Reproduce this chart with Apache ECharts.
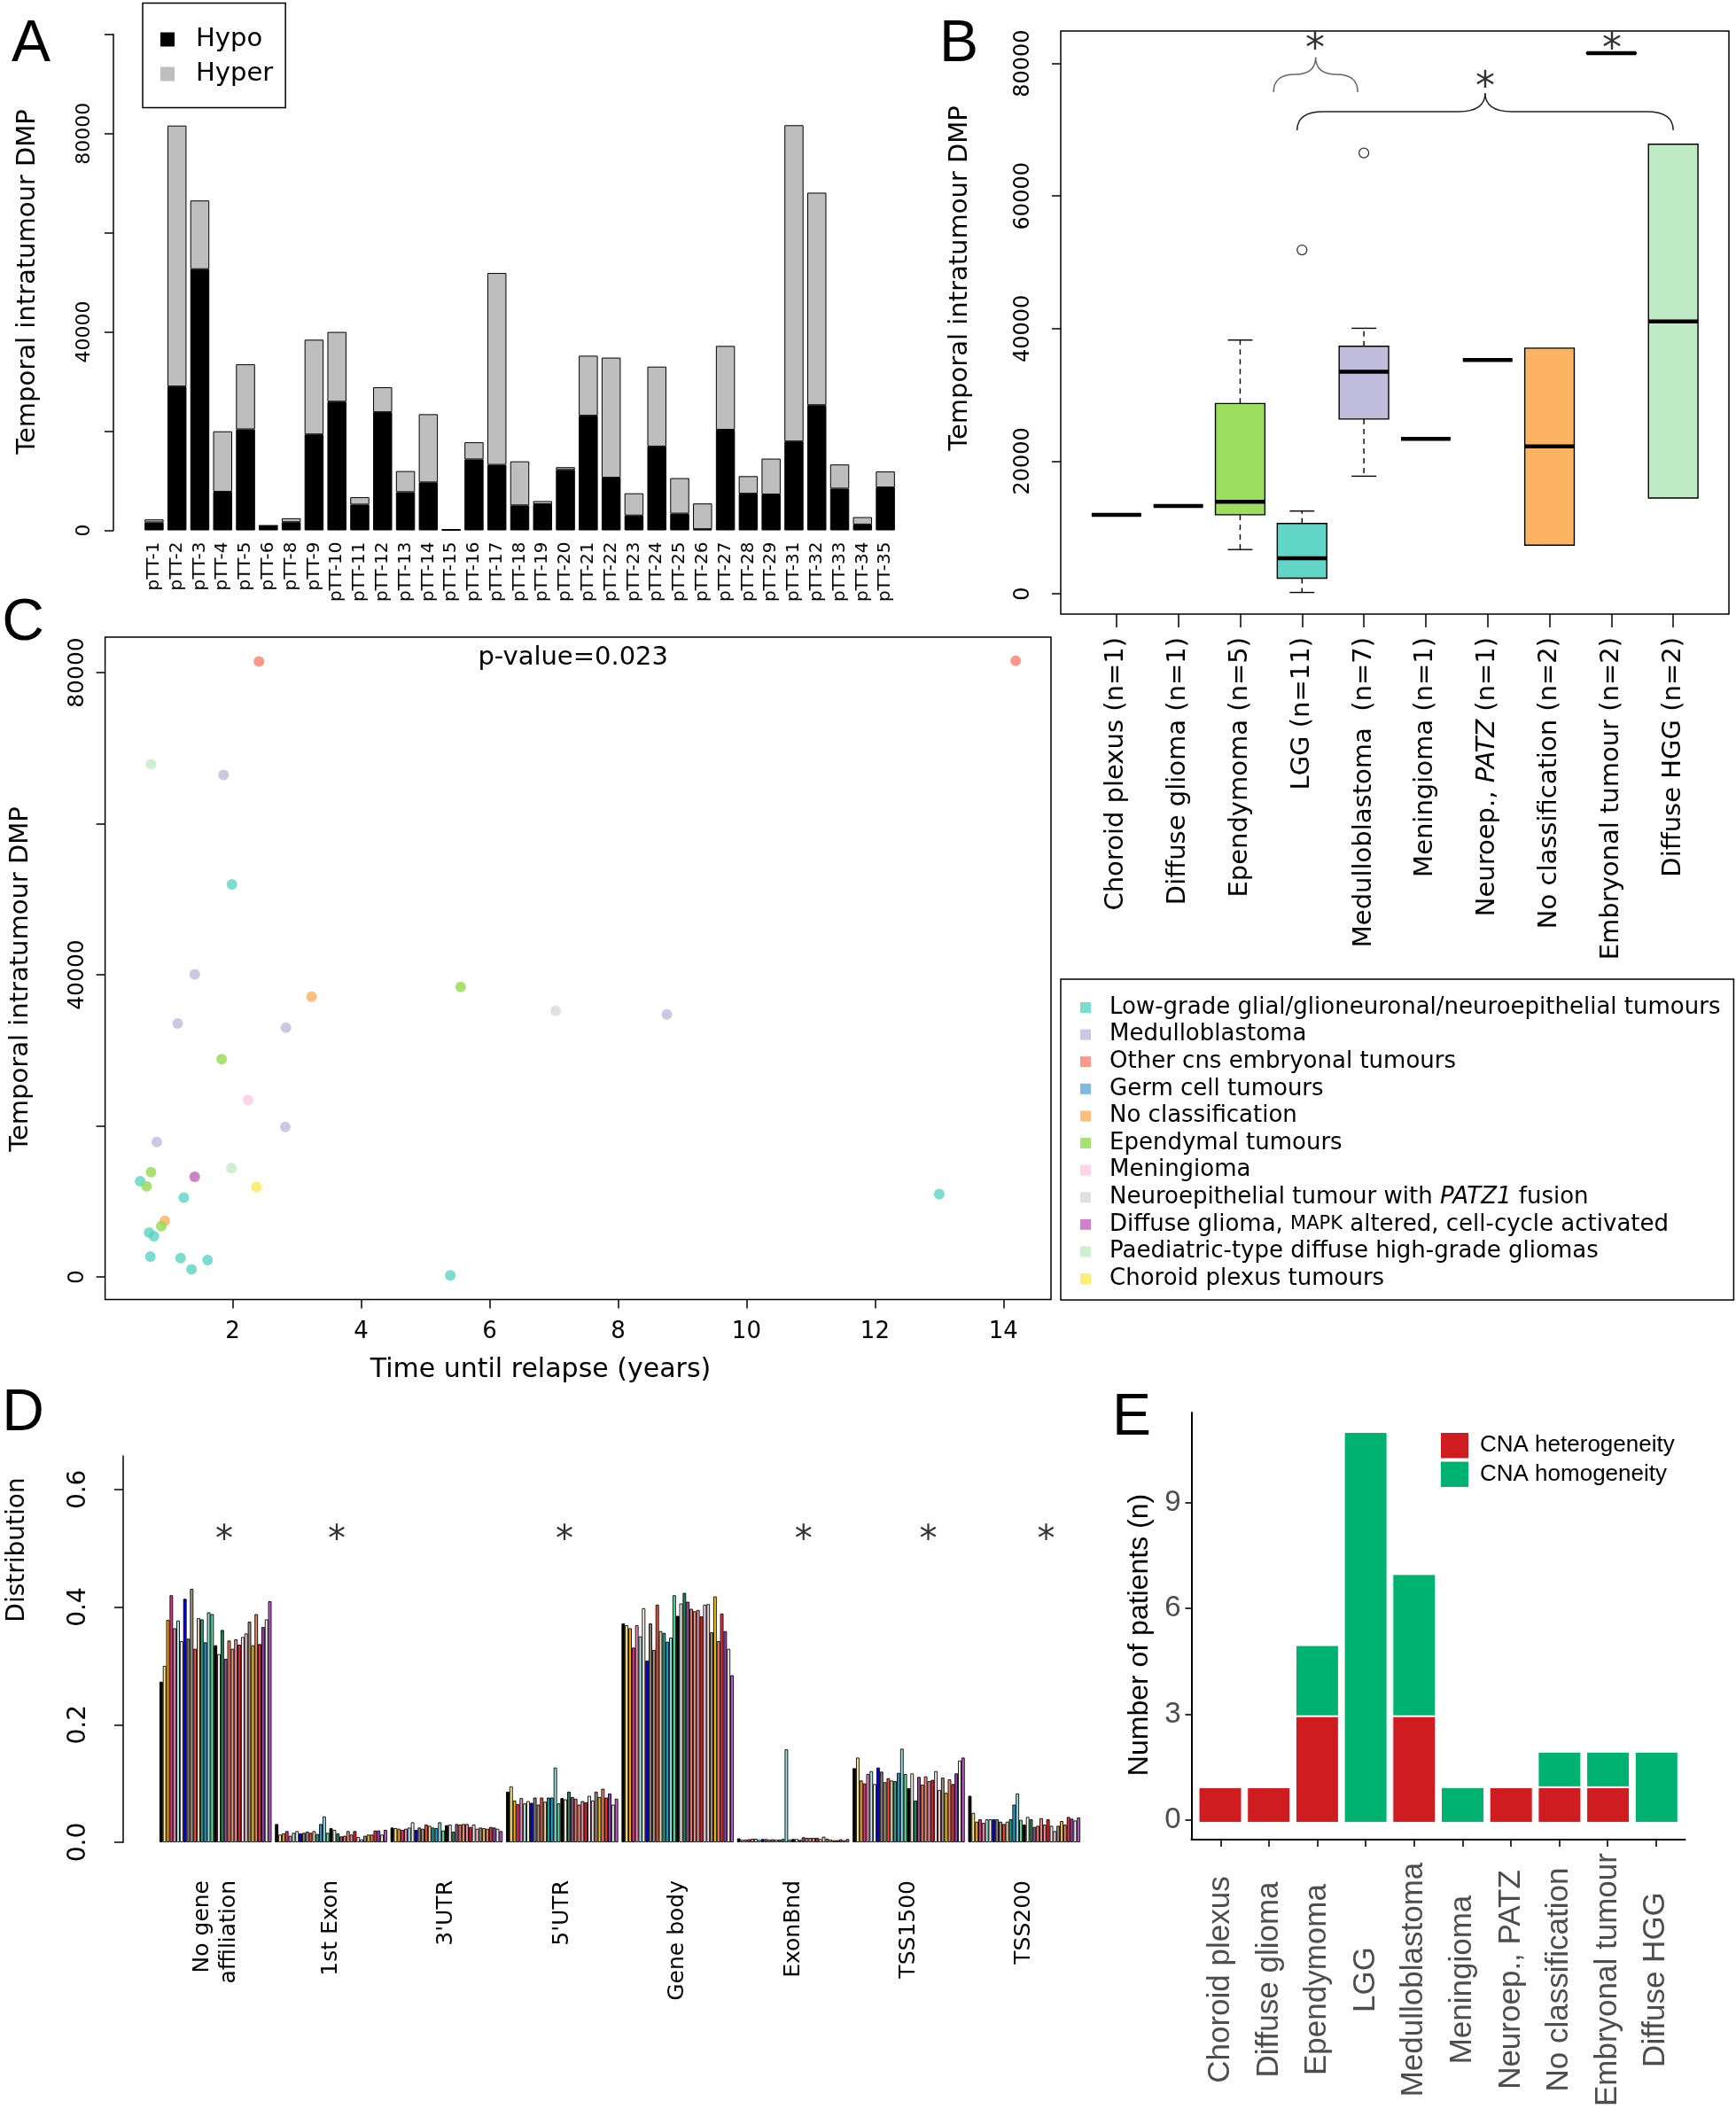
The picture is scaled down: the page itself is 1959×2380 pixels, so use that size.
<!DOCTYPE html>
<html>
<head>
<meta charset="utf-8">
<script src="https://cdn.jsdelivr.net/npm/echarts@6.0.0/dist/echarts.min.js"></script>
<style>
html,body{margin:0;padding:0;background:#ffffff;}
#chart{width:1959px;height:2380px;}
</style>
</head>
<body>
<div id="chart"></div>
<script>
// ---------------- Panel A data ----------------
const patientIds = ['pTT-1','pTT-2','pTT-3','pTT-4','pTT-5','pTT-6','pTT-8','pTT-9','pTT-10','pTT-11','pTT-12','pTT-13','pTT-14','pTT-15','pTT-16','pTT-17','pTT-18','pTT-19','pTT-20','pTT-21','pTT-22','pTT-23','pTT-24','pTT-25','pTT-26','pTT-27','pTT-28','pTT-29','pTT-31','pTT-32','pTT-33','pTT-34','pTT-35'];
const hypoDMP = [1600,29000,52650,7780,20360,940,1650,19340,25940,5190,23820,7700,9670,100,14300,13200,5030,5270,12180,23110,10610,2990,16900,3380,240,20280,7390,7230,17920,25230,8410,1180,8650];
const hyperDMP = [600,52600,13850,12180,13120,0,790,19100,14060,1490,5030,4250,13750,60,3460,38680,8880,630,550,12100,24210,4480,16110,7150,5180,16900,3540,7230,63750,42840,4870,1490,3220];
const dmpTicksA = [0,20000,40000,60000,80000,100000];
const dmpLabelsA = [0,40000,80000];

// ---------------- Panel B data ----------------
const boxCategories = ['Choroid plexus (n=1)','Diffuse glioma (n=1)','Ependymoma (n=5)','LGG (n=11)','Medulloblastoma  (n=7)','Meningioma (n=1)','Neuroep., PATZ (n=1)','No classification (n=2)','Embryonal tumour (n=2)','Diffuse HGG (n=2)'];
// [min, Q1, median, Q3, max]
const boxMin    = [11910,13220,6660,190,17730,23350,35270,7320,81480,14440];
const boxQ1     = [11910,13220,11910,2340,26350,23350,35270,7320,81480,14440];
const boxMedian = [11910,13220,13880,5350,33480,23350,35270,22230,81550,41080];
const boxQ3     = [11910,13220,28700,10600,37330,23350,35270,37050,81600,67810];
const boxMax    = [11910,13220,38270,12470,40050,23350,35270,37050,81600,67810];
const boxOutliers = [[4,51870],[5,66500]];
const boxTicks = [0,20000,40000,60000,80000];
// significance braces: [fromX, toX, endY, flatY, tipY]
const braceData = [[3.54,4.9,75670,78340,80950],[3.92,10.0,69920,72730,75530]];
const starsB = [[4.21,81820],[6.96,76070],[9.01,81820]];

// ---------------- Panel C data ----------------
const classNames = ['Low-grade glial/glioneuronal/neuroepithelial tumours','Medulloblastoma','Other cns embryonal tumours','Germ cell tumours','No classification','Ependymal tumours','Meningioma','Neuroepithelial tumour with PATZ1 fusion','Diffuse glioma, MAPK altered, cell-cycle activated','Paediatric-type diffuse high-grade gliomas','Choroid plexus tumours'];
const relapseLGG = [[1.99,51960],[0.56,12660],[1.24,10500],[13.0,10980],[0.70,5860],[0.775,5390],[0.72,2690],[1.19,2490],[1.36,1010],[1.61,2220],[5.39,200]];
const relapseMB = [[1.86,66470],[1.41,40070],[1.145,33540],[2.83,33000],[8.76,34750],[2.82,19870],[0.82,17850]];
const relapseEmbryonal = [[2.41,81480],[14.19,81550]];
const relapseGerm = [];
const relapseNoClass = [[3.23,37100],[0.945,7410]];
const relapseEpendymal = [[5.55,38380],[1.83,28820],[0.73,13870],[0.66,11990],[0.89,6730]];
const relapseMeningioma = [[2.24,23430]];
const relapsePATZ1 = [[7.03,35220]];
const relapseMAPK = [[1.41,13270]];
const relapseHGG = [[0.73,67880],[1.98,14410]];
const relapseChoroid = [[2.37,11920]];
const relapseXTicks = [2,4,6,8,10,12,14];
const relapseYTicks = [0,20000,40000,60000,80000];
const relapseYLabels = [0,40000,80000];

// ---------------- Panel D data ----------------
const regionNames = ['No gene\naffiliation','1st Exon',"3'UTR","5'UTR",'Gene body','ExonBnd','TSS1500','TSS200'];
const distNoGene = [0.273,0.300,0.378,0.420,0.364,0.377,0.342,0.414,0.346,0.431,0.329,0.381,0.379,0.340,0.391,0.388,0.335,0.320,0.361,0.312,0.343,0.329,0.345,0.336,0.349,0.355,0.375,0.335,0.388,0.337,0.366,0.379,0.410];
const distFirstExon = [0.031,0.013,0.015,0.019,0.011,0.016,0.019,0.015,0.016,0.018,0.016,0.019,0.014,0.031,0.044,0.016,0.024,0.021,0.015,0.010,0.011,0.019,0.013,0.019,0.009,0.005,0.011,0.013,0.013,0.020,0.020,0.013,0.021];
const dist3UTR = [0.025,0.024,0.023,0.021,0.023,0.025,0.034,0.021,0.025,0.023,0.030,0.028,0.025,0.024,0.034,0.020,0.029,0.030,0.018,0.031,0.030,0.031,0.031,0.026,0.030,0.023,0.025,0.024,0.023,0.026,0.025,0.023,0.019];
const dist5UTR = [0.086,0.095,0.071,0.065,0.075,0.066,0.070,0.067,0.076,0.064,0.076,0.069,0.076,0.076,0.127,0.066,0.075,0.073,0.086,0.077,0.074,0.064,0.070,0.068,0.079,0.071,0.086,0.077,0.091,0.076,0.083,0.064,0.074];
const distGeneBody = [0.372,0.369,0.364,0.331,0.369,0.350,0.398,0.309,0.372,0.327,0.404,0.359,0.356,0.341,0.348,0.420,0.385,0.406,0.424,0.409,0.397,0.393,0.395,0.384,0.404,0.405,0.357,0.418,0.342,0.389,0.359,0.329,0.284];
const distExonBnd = [0.0066,0.0041,0.0046,0.0051,0.006,0.006,0.004,0.0055,0.0055,0.0046,0.005,0.0046,0.0046,0.0055,0.158,0.0046,0.0055,0.0055,0.004,0.0085,0.0075,0.0075,0.0075,0.0075,0.0055,0.0095,0.006,0.0046,0.0035,0.0035,0.005,0.0035,0.0055];
const distTSS1500 = [0.126,0.144,0.105,0.100,0.116,0.121,0.099,0.127,0.120,0.102,0.109,0.105,0.104,0.118,0.159,0.116,0.092,0.117,0.071,0.111,0.098,0.112,0.104,0.106,0.121,0.089,0.110,0.084,0.107,0.099,0.117,0.139,0.144];
const distTSS200 = [0.079,0.050,0.035,0.039,0.033,0.039,0.039,0.039,0.039,0.035,0.031,0.035,0.039,0.064,0.083,0.038,0.030,0.043,0.039,0.026,0.028,0.041,0.030,0.039,0.028,0.019,0.028,0.036,0.030,0.043,0.040,0.037,0.042];
const distTicks = [0,0.2,0.4,0.6];
const starsD = [[0.575,0.511],[1.549,0.511],[3.52,0.511],[5.59,0.511],[6.67,0.511],[7.69,0.511]];

// ---------------- Panel E data ----------------
const cnaCategories = ['Choroid plexus','Diffuse glioma','Ependymoma','LGG','Medulloblastoma','Meningioma','Neuroep., PATZ','No classification','Embryonal tumour','Diffuse HGG'];
const cnaHetero = [1,1,3,0,3,0,1,1,1,0];
const cnaHomo   = [0,0,2,11,4,1,0,1,1,2];
const cnaTicks = [0,3,6,9];

// ---------------- styles ----------------
const DV = 'DejaVu Sans';
const LS = 'Liberation Sans';
const boxFill = [null,null,'#9EDE5E','#62D6C6','#C0BCDC',null,null,'#FDB462',null,'#BFEBC5'];
const braceColors = ['#666666','#222222'];
const classColors = ['#5AD3C4','#BEBADA','#F97E6F','#5FA9D6','#FDAF5D','#94D950','#FCC9E3','#D9D9D9','#C463BC','#C3ECC4','#FFE957'];
const samplePalette = ['#000000','#FFEC8B','#FFA500','#E6308A','#F58DB5','#AEEEEE','#FFF8E7','#0000EE','#8B7D6B','#A39884','#F0503C','#EED5B0','#1FA38F','#1E9FD8','#96E0E0','#5BE39B','#000000','#FDF5E6','#1F8A57','#9B4D97','#EE7A5C','#F4937E','#EF8FA8','#E8201E','#F5E5F2','#F9D2D4','#9E8B79','#F6C31A','#F08560','#E9313A','#9C3FB5','#F7F2F2','#C45BD1'];

const chart = echarts.init(document.getElementById('chart'), null, {renderer:'canvas', width:1959, height:2380});

function vText(text, x, y, size, family, color){
  return {type:'text', x:x, y:y, rotation:Math.PI/2,
    style:{text:text, fontSize:size, fontFamily:family, fill:color||'#000', align:'center', verticalAlign:'middle', textAlign:'center', textVerticalAlign:'middle'}};
}
function hText(text, x, y, size, family, color){
  return {type:'text', x:x, y:y,
    style:{text:text, fontSize:size, fontFamily:family, fill:color||'#000', align:'center', verticalAlign:'middle', textAlign:'center', textVerticalAlign:'middle'}};
}
function plainNum(v){ return String(v); }

// panel D series (one per sample)
const regionTable = [distNoGene, distFirstExon, dist3UTR, dist5UTR, distGeneBody, distExonBnd, distTSS1500, distTSS200];
const dSeries = samplePalette.map(function(col, i){
  return {type:'bar', name:'s'+i, xAxisIndex:3, yAxisIndex:3,
    data: regionTable.map(function(arr){ return arr[i]; }),
    barGap:'0%', barCategoryGap:'2.94%',
    itemStyle:{color:col, borderColor:'#000', borderWidth:0.9}, emphasis:{disabled:true}};
});

const relapseSets = [relapseLGG, relapseMB, relapseEmbryonal, relapseGerm, relapseNoClass, relapseEpendymal, relapseMeningioma, relapsePATZ1, relapseMAPK, relapseHGG, relapseChoroid];
const cSeries = classNames.map(function(nm, i){
  return {type:'scatter', name:nm, xAxisIndex:2, yAxisIndex:2, data:relapseSets[i], symbol:'circle', symbolSize:12,
    itemStyle:{color:classColors[i]}, emphasis:{disabled:true}};
});

const boxData = boxCategories.map(function(c, i){ return [i+1, boxMin[i], boxQ1[i], boxMedian[i], boxQ3[i], boxMax[i]]; });

function renderBox(params, api){
  const idx = api.value(0);
  const mn = api.value(1), q1 = api.value(2), md = api.value(3), q3 = api.value(4), mx = api.value(5);
  const hw = api.size([0.8, 0])[0] / 2;
  const x = api.coord([idx, md])[0];
  const yMn = api.coord([idx, mn])[1], yQ1 = api.coord([idx, q1])[1], yMd = api.coord([idx, md])[1], yQ3 = api.coord([idx, q3])[1], yMx = api.coord([idx, mx])[1];
  const ch = [];
  if (mx > q3) {
    ch.push({type:'line', shape:{x1:x, y1:yQ3, x2:x, y2:yMx}, style:{stroke:'#000', lineWidth:1.4, lineDash:[6,5]}});
    ch.push({type:'line', shape:{x1:x-hw/2, y1:yMx, x2:x+hw/2, y2:yMx}, style:{stroke:'#000', lineWidth:1.4}});
  }
  if (mn < q1) {
    ch.push({type:'line', shape:{x1:x, y1:yQ1, x2:x, y2:yMn}, style:{stroke:'#000', lineWidth:1.4, lineDash:[6,5]}});
    ch.push({type:'line', shape:{x1:x-hw/2, y1:yMn, x2:x+hw/2, y2:yMn}, style:{stroke:'#000', lineWidth:1.4}});
  }
  const fill = boxFill[params.dataIndex] || 'none';
  ch.push({type:'rect', shape:{x:x-hw, y:yQ3, width:2*hw, height:Math.max(0, yQ1-yQ3)}, style:{fill:fill, stroke:'#000', lineWidth:1.4}});
  ch.push({type:'line', shape:{x1:x-hw, y1:yMd, x2:x+hw, y2:yMd}, style:{stroke:'#000', lineWidth:4.5}});
  return {type:'group', children:ch};
}

function renderBrace(params, api){
  const x1 = api.value(0), x2 = api.value(1), yEnd = api.value(2), yFlat = api.value(3), yTip = api.value(4);
  const pA = api.coord([x1, yEnd]), pB = api.coord([x2, yEnd]);
  const fl = api.coord([x1, yFlat])[1], tp = api.coord([x1, yTip])[1];
  const xa = pA[0], xb = pB[0], xm = (xa + xb) / 2, ye = pA[1];
  const r = Math.min(30, (xb - xa) / 4);
  const d = 'M' + xa + ',' + ye + ' Q' + xa + ',' + fl + ' ' + (xa + r) + ',' + fl +
    ' L' + (xm - r) + ',' + fl + ' Q' + xm + ',' + fl + ' ' + xm + ',' + tp +
    ' Q' + xm + ',' + fl + ' ' + (xm + r) + ',' + fl + ' L' + (xb - r) + ',' + fl +
    ' Q' + xb + ',' + fl + ' ' + xb + ',' + ye;
  return {type:'path', shape:{pathData:d}, style:{fill:'none', stroke:braceColors[params.dataIndex], lineWidth:1.5}};
}

const option = {
  animation:false,
  backgroundColor:'#ffffff',
  textStyle:{fontFamily:DV, color:'#000'},
  grid:[
    {left:161, top:38.7, width:851, height:559.8},
    {left:1197, top:35, width:754, height:658, show:true, borderColor:'#000', borderWidth:1.5, backgroundColor:'transparent'},
    {left:118.6, top:719, width:1067.4, height:747.5, show:true, borderColor:'#000', borderWidth:1.5, backgroundColor:'transparent'},
    {left:178, top:1643, width:1043, height:436},
    {left:1349.65, top:1594, width:547, height:485},
    {left:1344.5, top:1594, width:557, height:485}
  ],
  xAxis:[
    {type:'category', gridIndex:0, data:patientIds, axisLine:{show:false}, axisTick:{show:false},
      axisLabel:{rotate:90, interval:0, margin:13, fontSize:20, fontFamily:DV, color:'#000'}},
    {type:'value', gridIndex:1, min:0.1, max:10.9, splitLine:{show:false}, axisLine:{show:false, onZero:false},
      axisTick:{show:true, length:15, lineStyle:{color:'#000', width:1.5}, customValues:[1,2,3,4,5,6,7,8,9,10]},
      axisLabel:{customValues:[1,2,3,4,5,6,7,8,9,10], rotate:90, margin:26, fontSize:29, fontFamily:DV, color:'#000',
        formatter:function(v){ const s = boxCategories[Math.round(v)-1] || ''; return s.replace('PATZ', '{i|PATZ}'); },
        rich:{i:{fontStyle:'italic', fontSize:29, fontFamily:DV, color:'#000'}}}},
    {type:'value', gridIndex:2, min:0.015, max:14.74, splitLine:{show:false}, axisLine:{show:false, onZero:false},
      axisTick:{show:true, length:10, lineStyle:{color:'#000', width:1.5}, customValues:relapseXTicks},
      axisLabel:{customValues:relapseXTicks, margin:24, fontSize:26, fontFamily:DV, color:'#000', formatter:plainNum}},
    {type:'category', gridIndex:3, data:regionNames, axisLine:{show:false}, axisTick:{show:false},
      axisLabel:{rotate:90, interval:0, margin:43, fontSize:25, lineHeight:30, fontFamily:DV, color:'#000'}},
    {type:'value', gridIndex:3, min:0, max:8, show:false, splitLine:{show:false}},
    {type:'category', gridIndex:4, data:cnaCategories, show:false},
    {type:'value', gridIndex:5, min:0.4, max:10.6, splitLine:{show:false},
      axisLine:{show:true, onZero:false, lineStyle:{color:'#000', width:2}},
      axisTick:{show:true, length:8, lineStyle:{color:'#333', width:2}, customValues:[1,2,3,4,5,6,7,8,9,10]},
      axisLabel:{customValues:[1,2,3,4,5,6,7,8,9,10], rotate:90, margin:158, align:'center', verticalAlign:'middle',
        fontSize:35, fontFamily:LS, color:'#4D4D4D',
        formatter:function(v){ return cnaCategories[Math.round(v)-1] || ''; }}}
  ],
  yAxis:[
    {type:'value', gridIndex:0, min:0, max:100000, offset:33, splitLine:{show:false},
      axisLine:{show:true, onZero:false, lineStyle:{color:'#000', width:1.5}},
      axisTick:{show:true, length:10, lineStyle:{color:'#000', width:1.5}, customValues:dmpTicksA},
      axisLabel:{customValues:dmpLabelsA, rotate:90, margin:22, fontSize:22, fontFamily:DV, color:'#000', formatter:plainNum}},
    {type:'value', gridIndex:1, min:-3075, max:84900, splitLine:{show:false}, axisLine:{show:false, onZero:false},
      axisTick:{show:true, length:10, lineStyle:{color:'#000', width:1.5}, customValues:boxTicks},
      axisLabel:{customValues:boxTicks, rotate:90, margin:30, fontSize:24, fontFamily:DV, color:'#000', formatter:plainNum}},
    {type:'value', gridIndex:2, min:-2990, max:84700, splitLine:{show:false}, axisLine:{show:false, onZero:false},
      axisTick:{show:true, length:10, lineStyle:{color:'#000', width:1.5}, customValues:relapseYTicks},
      axisLabel:{customValues:relapseYLabels, rotate:90, margin:19, fontSize:25, fontFamily:DV, color:'#000', formatter:plainNum}},
    {type:'value', gridIndex:3, min:0, max:0.657, offset:39, splitLine:{show:false},
      axisLine:{show:true, onZero:false, lineStyle:{color:'#000', width:1.5}},
      axisTick:{show:true, length:10, lineStyle:{color:'#000', width:1.5}, customValues:distTicks},
      axisLabel:{customValues:distTicks, rotate:90, margin:36, fontSize:28, fontFamily:DV, color:'#000',
        formatter:function(v){ return v.toFixed(1); }}},
    {type:'value', gridIndex:4, min:-0.55, max:11.55, show:false, splitLine:{show:false}},
    {type:'value', gridIndex:5, min:-0.55, max:11.55, splitLine:{show:false},
      axisLine:{show:true, onZero:false, lineStyle:{color:'#000', width:2}},
      axisTick:{show:true, length:7, lineStyle:{color:'#333', width:2}, customValues:cnaTicks},
      axisLabel:{customValues:cnaTicks, margin:12, fontSize:33, fontFamily:LS, color:'#4D4D4D', formatter:plainNum}}
  ],
  legend:[
    {data:['Hypo','Hyper'], orient:'vertical', left:161, top:3.5, padding:[26,14,23,20], itemGap:9,
      itemWidth:16, itemHeight:16, icon:'rect', selectedMode:false, borderColor:'#000', borderWidth:1.5, borderRadius:0,
      itemStyle:{borderWidth:0},
      textStyle:{fontSize:29, fontFamily:DV, color:'#000', lineHeight:30, padding:[0,0,0,19]}},
    {data:classNames, orient:'vertical', left:1197, top:1105, padding:[18,15,10,22], itemGap:2.6,
      itemWidth:12, itemHeight:12, icon:'rect', selectedMode:false, borderColor:'#000', borderWidth:1.5, borderRadius:0,
      itemStyle:{borderWidth:0},
      formatter:function(n){ return n.replace('PATZ1', '{i|PATZ1}').replace('MAPK', '{s|MAPK}'); },
      textStyle:{fontSize:26, fontFamily:DV, color:'#000', lineHeight:28, padding:[0,0,0,16],
        rich:{i:{fontStyle:'italic', fontSize:26, fontFamily:DV, color:'#000', lineHeight:28}, s:{fontSize:21, fontFamily:DV, color:'#000', lineHeight:28}}}},
    {data:['CNA heterogeneity','CNA homogeneity'], orient:'vertical', left:1626, top:1617, padding:0, itemGap:4,
      itemWidth:31, itemHeight:28.5, icon:'rect', selectedMode:false, itemStyle:{borderWidth:0},
      textStyle:{fontSize:26, fontFamily:LS, color:'#000', lineHeight:28.5, padding:[0,0,0,8]}}
  ],
  series:[
    {type:'bar', name:'Hypo', xAxisIndex:0, yAxisIndex:0, stack:'a', data:hypoDMP, barCategoryGap:'16.7%',
      itemStyle:{color:'#000000', borderColor:'#000', borderWidth:1}, emphasis:{disabled:true}},
    {type:'bar', name:'Hyper', xAxisIndex:0, yAxisIndex:0, stack:'a', data:hyperDMP, barCategoryGap:'16.7%',
      itemStyle:{color:'#BEBEBE', borderColor:'#000', borderWidth:1}, emphasis:{disabled:true}},
    {type:'custom', name:'boxes', xAxisIndex:1, yAxisIndex:1, data:boxData, renderItem:renderBox, clip:false},
    {type:'scatter', name:'outliers', xAxisIndex:1, yAxisIndex:1, data:boxOutliers, symbol:'circle', symbolSize:11,
      itemStyle:{color:'rgba(0,0,0,0)', borderColor:'#000', borderWidth:1.3}, emphasis:{disabled:true}},
    {type:'custom', name:'braces', xAxisIndex:1, yAxisIndex:1, data:braceData, renderItem:renderBrace, clip:false},
    {type:'scatter', name:'starsB', xAxisIndex:1, yAxisIndex:1, data:starsB, symbolSize:0,
      label:{show:true, position:'inside', formatter:'*', fontSize:44, fontFamily:DV, color:'#000'}, emphasis:{disabled:true}}
  ].concat(cSeries).concat(dSeries).concat([
    {type:'scatter', name:'starsD', xAxisIndex:4, yAxisIndex:3, data:starsD, symbolSize:0,
      label:{show:true, position:'inside', formatter:'*', fontSize:40, fontFamily:DV, color:'#000'}, emphasis:{disabled:true}},
    {type:'bar', name:'CNA heterogeneity', xAxisIndex:5, yAxisIndex:4, stack:'cna', barWidth:49, data:cnaHetero,
      itemStyle:{color:'#CE1C20', borderColor:'#ffffff', borderWidth:1}, emphasis:{disabled:true}},
    {type:'bar', name:'CNA homogeneity', xAxisIndex:5, yAxisIndex:4, stack:'cna', barWidth:49, data:cnaHomo,
      itemStyle:{color:'#00B272', borderColor:'#ffffff', borderWidth:1}, emphasis:{disabled:true}}
  ]),
  graphic:[
    hText('A', 35, 51, 66, LS),
    hText('B', 1082, 51, 66, LS),
    hText('C', 26, 704, 66, LS),
    hText('D', 26, 1596, 66, LS),
    hText('E', 1277, 1601, 66, LS),
    vText('Temporal intratumour DMP', 31.5, 318, 29, DV),
    vText('Temporal intratumour DMP', 1083, 314, 29, DV),
    vText('Temporal intratumour DMP', 23, 1105, 29, DV),
    hText('Time until relapse (years)', 610, 1546, 30, DV),
    hText('p-value=0.023', 646.7, 742, 29, DV),
    vText('Distribution', 20, 1749, 28, DV),
    vText('Number of patients (n)', 1286, 1845, 32, LS)
  ]
};
chart.setOption(option);
</script>
</body>
</html>
